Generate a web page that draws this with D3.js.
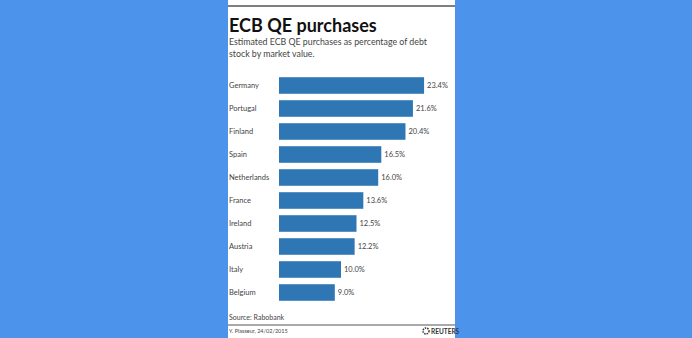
<!DOCTYPE html>
<html>
<head>
<meta charset="utf-8">
<script src="https://cdn.jsdelivr.net/npm/d3@7"></script>
<style>
  body { margin: 0; background: #4c93ec; }
  svg { display: block; font-family: Lato, "Noto Sans", sans-serif; }
</style>
</head>
<body>
<div id="chart"></div>
<script>
const countries = ["Germany", "Portugal", "Finland", "Spain", "Netherlands", "France", "Ireland", "Austria", "Italy", "Belgium"];
const shares = [23.4, 21.6, 20.4, 16.5, 16.0, 13.6, 12.5, 12.2, 10.0, 9.0];

const W = 692, H = 338;
const panel = { left: 228, right: 455 };
const plot = { left: 279, top: 74, bottom: 304 };

const svg = d3.select("#chart").append("svg")
  .attr("width", W).attr("height", H);

svg.append("rect")
  .attr("x", panel.left).attr("y", 0)
  .attr("width", panel.right - panel.left).attr("height", H)
  .attr("fill", "#fff");

svg.append("line")
  .attr("x1", panel.left).attr("x2", panel.right)
  .attr("y1", 6).attr("y2", 6)
  .attr("stroke", "#555").attr("stroke-width", 1.5);

svg.append("text")
  .attr("x", panel.left + 1).attr("y", 32)
  .attr("font-size", 18).attr("font-weight", "bold").attr("fill", "#111")
  .text("ECB QE purchases");

const sub = svg.append("text")
  .attr("x", panel.left + 1).attr("y", 45)
  .attr("font-size", 8.8).attr("fill", "#444");
sub.append("tspan").attr("x", panel.left + 1).text("Estimated ECB QE purchases as percentage of debt");
sub.append("tspan").attr("x", panel.left + 1).attr("dy", 12).text("stock by market value.");

const x = d3.scaleLinear().domain([0, 1]).range([0, 6.2]);
const y = d3.scaleBand().domain(countries).range([plot.top, plot.bottom]).paddingInner(0.28).paddingOuter(0.14);

const rows = countries.map((c, i) => ({ name: c, value: shares[i] }));

svg.selectAll(".bar")
  .data(rows)
  .enter().append("rect")
  .attr("class", "bar")
  .attr("x", plot.left)
  .attr("y", d => y(d.name))
  .attr("width", d => x(d.value))
  .attr("height", y.bandwidth())
  .attr("fill", "#2f76b5");

svg.selectAll(".name")
  .data(rows)
  .enter().append("text")
  .attr("class", "name")
  .attr("x", panel.left + 1)
  .attr("y", d => y(d.name) + y.bandwidth() / 2)
  .attr("dy", "0.35em")
  .attr("font-size", 7.5).attr("fill", "#444")
  .text(d => d.name);

svg.selectAll(".val")
  .data(rows)
  .enter().append("text")
  .attr("class", "val")
  .attr("x", d => plot.left + x(d.value) + 3)
  .attr("y", d => y(d.name) + y.bandwidth() / 2)
  .attr("dy", "0.35em")
  .attr("font-size", 7.5).attr("fill", "#444")
  .text(d => d.value.toFixed(1) + "%");

svg.append("text")
  .attr("x", panel.left + 1).attr("y", 320)
  .attr("font-size", 7).attr("fill", "#444")
  .text("Source: Rabobank");

svg.append("line")
  .attr("x1", panel.left).attr("x2", panel.right)
  .attr("y1", 325).attr("y2", 325)
  .attr("stroke", "#555").attr("stroke-width", 1);

svg.append("text")
  .attr("x", panel.left + 1).attr("y", 333)
  .attr("font-size", 5.5).attr("fill", "#444")
  .text("Y. Plasseur, 24/02/2015");

// reuters mark
svg.append("circle")
  .attr("cx", 426).attr("cy", 331).attr("r", 3)
  .attr("fill", "none").attr("stroke", "#333").attr("stroke-width", 1.5)
  .attr("stroke-dasharray", "1.5,1");
svg.append("text")
  .attr("x", 431).attr("y", 333.5)
  .attr("font-size", 6.5).attr("font-weight", "bold").attr("fill", "#333")
  .text("REUTERS");
</script>
</body>
</html>
